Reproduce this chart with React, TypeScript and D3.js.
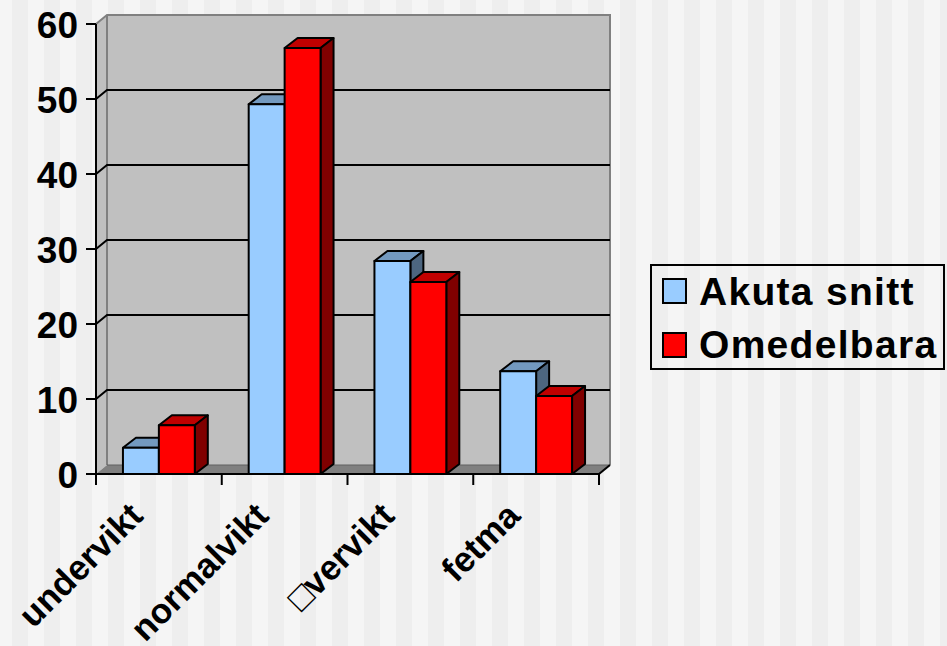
import React, { useEffect } from "react";
import * as d3 from "d3";

const categories = ["undervikt", "normalvikt", "□vervikt", "fetma"];
const seriesNames = ["Akuta snitt", "Omedelbara"];
const akutaSnitt = [3.5, 49.3, 28.4, 13.7];
const omedelbara = [6.5, 56.8, 25.6, 10.4];
const yTicks = [0, 10, 20, 30, 40, 50, 60];

const W = 947;
const H = 646;
const FONT = "'Liberation Sans', Arial, Helvetica, sans-serif";

const frontColors = ["#99CCFF", "#FF0000"];
const topColors = ["#7399BF", "#C00000"];
const sideColors = ["#4D6680", "#800000"];

export default function App() {
  useEffect(() => {
    document.body.style.margin = "0";
  }, []);

  const x0 = 96, x1 = 599, yBottom = 474, yTop = 24;
  const wdx = 11, wdy = -9; // wall depth
  const bdx = 13, bdy = -10; // bar depth

  const y = d3.scaleLinear().domain([0, 60]).range([yBottom, yTop]);
  const xBand = d3.scaleBand().domain(categories).range([x0, x1]).paddingInner(0).paddingOuter(0);
  const bw = xBand.bandwidth() / 3.5;
  const series = [akutaSnitt, omedelbara];

  const stripes: number[] = [];
  for (let sx = -20; sx < W; sx += 32) stripes.push(sx);

  const poly = (pts: [number, number][]) => pts.map((p) => p.join(",")).join(" ");

  return (
    <svg width={W} height={H} style={{ display: "block" }} fontFamily={FONT}>
      <rect x={0} y={0} width={W} height={H} fill="#F5F5F5" />
      {stripes.map((sx, i) => (
        <rect key={i} x={sx} y={0} width={16} height={H} fill="#EEEEEE" />
      ))}
      {/* back wall */}
      <rect x={x0 + wdx} y={yTop + wdy} width={x1 - x0} height={yBottom - yTop} fill="#C0C0C0" />
      {/* left wall */}
      <polygon
        points={poly([
          [x0, yTop],
          [x0 + wdx, yTop + wdy],
          [x0 + wdx, yBottom + wdy],
          [x0, yBottom],
        ])}
        fill="#C0C0C0"
      />
      {/* floor */}
      <polygon
        points={poly([
          [x0, yBottom],
          [x0 + wdx, yBottom + wdy],
          [x1 + wdx, yBottom + wdy],
          [x1, yBottom],
        ])}
        fill="#808080"
      />
      {/* wall outlines */}
      <polyline
        points={poly([
          [x0, yTop],
          [x0 + wdx, yTop + wdy],
          [x1 + wdx, yTop + wdy],
          [x1 + wdx, yBottom + wdy],
        ])}
        fill="none"
        stroke="#808080"
        strokeWidth={2}
      />
      <line x1={x0 + wdx} y1={yTop + wdy} x2={x0 + wdx} y2={yBottom + wdy} stroke="#808080" strokeWidth={2} />
      <line x1={x0 + wdx} y1={yBottom + wdy} x2={x1 + wdx} y2={yBottom + wdy} stroke="#606060" strokeWidth={1} />
      {/* gridlines */}
      {yTicks.slice(1, 6).map((t) => (
        <polyline
          key={t}
          points={poly([
            [x0, y(t)],
            [x0 + wdx, y(t) + wdy],
            [x1 + wdx, y(t) + wdy],
          ])}
          fill="none"
          stroke="#000"
          strokeWidth={2}
        />
      ))}
      {/* bars */}
      {categories.map((c, ci) => {
        const cx = xBand(c)! + bw * 0.75;
        return series.map((s, si) => {
          const bx = cx + si * bw;
          const yv = y(s[ci]);
          return (
            <g key={c + si} stroke="#000" strokeWidth={2} strokeLinejoin="round">
              <polygon
                points={poly([
                  [bx, yv],
                  [bx + bw, yv],
                  [bx + bw + bdx, yv + bdy],
                  [bx + bdx, yv + bdy],
                ])}
                fill={topColors[si]}
              />
              <polygon
                points={poly([
                  [bx + bw, yv],
                  [bx + bw + bdx, yv + bdy],
                  [bx + bw + bdx, yBottom + bdy],
                  [bx + bw, yBottom],
                ])}
                fill={sideColors[si]}
              />
              <rect x={bx} y={yv} width={bw} height={yBottom - yv} fill={frontColors[si]} />
            </g>
          );
        });
      })}
      {/* floor right edge */}
      <line x1={x1} y1={yBottom} x2={x1 + wdx} y2={yBottom + wdy} stroke="#000" strokeWidth={2} />
      {/* axes */}
      <line x1={x0} y1={yTop} x2={x0} y2={yBottom} stroke="#000" strokeWidth={2} />
      <line x1={x0} y1={yBottom} x2={x1} y2={yBottom} stroke="#000" strokeWidth={2} />
      {yTicks.map((t) => (
        <g key={t}>
          <line x1={x0 - 10} y1={y(t)} x2={x0} y2={y(t)} stroke="#000" strokeWidth={2} />
          <text x={78} y={y(t) + 13.5} textAnchor="end" fontSize={37} fontWeight="bold" fill="#000">
            {t}
          </text>
        </g>
      ))}
      {categories.map((c, i) => (
        <line key={"t" + i} x1={xBand(c)!} y1={yBottom} x2={xBand(c)!} y2={yBottom + 11} stroke="#000" strokeWidth={2} />
      ))}
      <line x1={x1} y1={yBottom} x2={x1} y2={yBottom + 11} stroke="#000" strokeWidth={2} />
      {categories.map((c) => {
        const cxm = xBand(c)! + xBand.bandwidth() / 2;
        const ax = cxm - 32;
        const ay = 500;
        return (
          <text
            key={"l" + c}
            x={ax}
            y={ay}
            textAnchor="end"
            fontSize={35}
            fontWeight="bold"
            fill="#000"
            transform={`rotate(-45, ${ax}, ${ay})`}
            dy="0.72em"
          >
            {c}
          </text>
        );
      })}
      {/* legend */}
      <rect x={651} y={265} width={293} height={104} fill="none" stroke="#000" strokeWidth={2} />
      {seriesNames.map((n, i) => (
        <g key={n}>
          <rect x={663} y={279 + i * 54} width={23} height={24} fill={frontColors[i]} stroke="#000" strokeWidth={2} />
          <text x={699} y={305 + i * 53} fontSize={39} letterSpacing={1.3} fontWeight="bold" fill="#000">
            {n}
          </text>
        </g>
      ))}
    </svg>
  );
}
